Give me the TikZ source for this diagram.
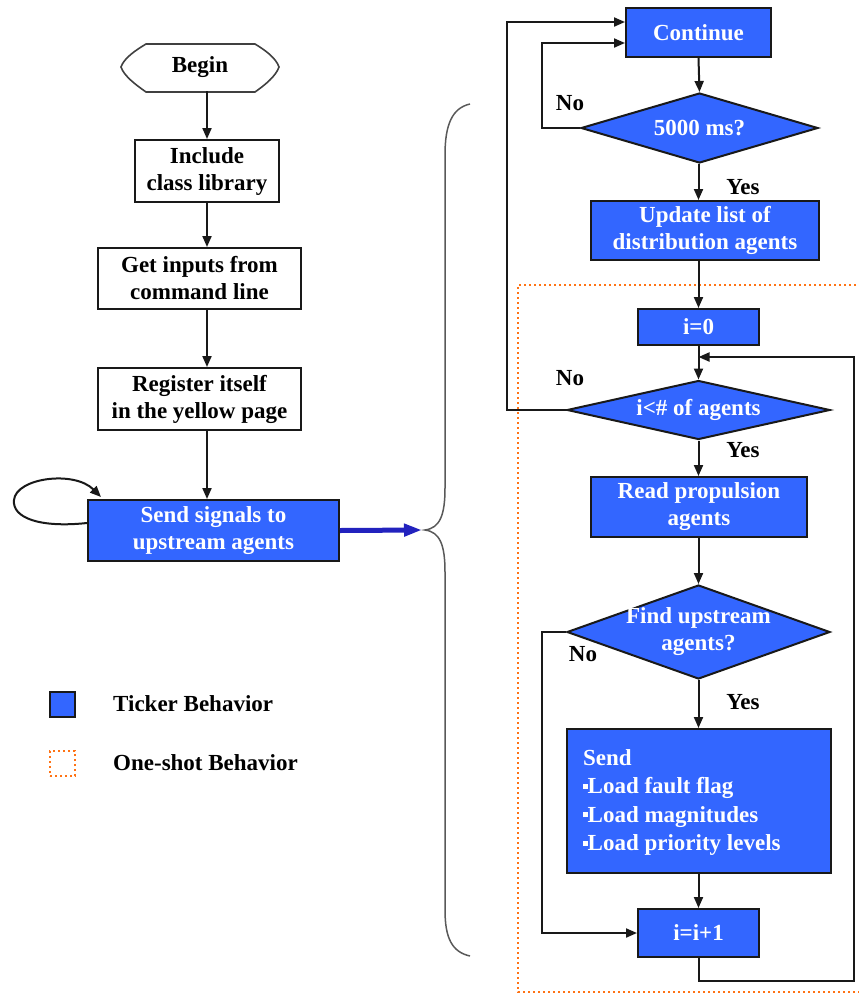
\documentclass[tikz,border=0pt]{standalone}
\usepackage{fontspec}
\setmainfont{Liberation Serif}
\usetikzlibrary{shapes.geometric,arrows.meta}
\definecolor{ticker}{RGB}{51,102,255}
\definecolor{oneshot}{RGB}{255,115,20}
\definecolor{shaft}{RGB}{34,34,190}
\definecolor{edge}{RGB}{25,25,25}
\newcommand{\sqbul}{\rule[5pt]{4.5pt}{5pt}}
\begin{document}
\begin{tikzpicture}[x=1pt,y=-1pt,
  every node/.style={font=\fontsize{23}{27}\selectfont\bfseries, inner sep=0pt},
  plainbox/.style={draw=edge, line width=2pt, fill=white, align=center},
  tickbox/.style={draw=edge, line width=2pt, fill=ticker, text=white, align=center},
  decide/.style={diamond, draw=edge, line width=2pt, fill=ticker},
  dtext/.style={text=white, align=center},
  arr/.style={line width=2pt, draw=edge, -{Triangle[length=11pt,width=9pt]}},
  lbl/.style={text=black},
  dots/.style={draw=oneshot, line width=2.4pt, dash pattern=on 2.2pt off 2.8pt},
]
\useasboundingbox (0,0) rectangle (859,994);

% one-shot region
\draw[dots] (866,285) -- (518,285) -- (518,992) -- (866,992);

% ---------- left column ----------
\node[minimum width=158, minimum height=48] (begin) at (200,67) {Begin};
\draw[line width=1.6pt, draw=black!75]
  (121,67) .. controls (124,58) and (136,50) .. (146,44) -- (255,44)
  .. controls (265,50) and (276,58) .. (279,67)
  .. controls (276,76) and (265,85) .. (255,92) -- (146,92)
  .. controls (136,85) and (124,76) .. cycle;

\node[plainbox, minimum width=144, minimum height=62] (include) at (207,171) {Include\\class library};
\node[plainbox, minimum width=203, minimum height=61] (getin) at (199.5,278.5) {Get inputs from\\command line};
\node[plainbox, minimum width=203, minimum height=62] (register) at (199.5,399) {Register itself\\in the yellow page};
\node[tickbox, minimum width=251, minimum height=61] (sig) at (213.5,530.5) {Send signals to\\upstream agents};

\draw[arr] (include.north |- begin.south) -- (include.north);
\draw[arr] (include.south) -- (include.south |- getin.north);
\draw[arr] (include.south |- getin.south) -- (include.south |- register.north);
\draw[arr] (include.south |- register.south) -- (include.south |- sig.north);

% self loop on the ticker
\coordinate (loopin) at (101,497);
\draw[arr] ([yshift=7.5pt]sig.west) .. controls (40,528) and (12,518) .. (14,500)
  .. controls (16,478) and (74,470) .. (loopin);

% thick arrow into the brace
\coordinate (tip) at (425,530);
\draw[line width=5pt, shaft, -{Triangle[length=18pt,width=12pt]}] (sig.east) -- ([xshift=-3pt]tip);

% brace
\draw[line width=1.5pt, black!65]
  (470,104) .. controls (452,108) and (445,125) .. (445,155) -- (445,488)
  .. controls (445,515) and (440,528) .. (tip)
  .. controls (440,532) and (445,545) .. (445,572) -- (445,910)
  .. controls (445,938) and (452,952) .. (470,956);

% legend
\node[draw=edge, fill=ticker, line width=2pt, minimum size=25] (legt) at (62.5,704.5) {};
\node[anchor=west, lbl] (legttxt) at (113,704) {Ticker Behavior};
\node[dots, minimum size=25] (lego) at (62.5,763.5) {};
\node[anchor=west, lbl] (legotxt) at (113,763) {One-shot Behavior};

% ---------- right column ----------
\node[tickbox, minimum width=145, minimum height=49] (cont) at (698.5,32.5) {Continue};
\node[decide, minimum width=237, minimum height=70] (dwait) at (699.5,128) {};
\node[dtext] (dwaitt) at (dwait) {5000 ms?};
\node[tickbox, minimum width=228, minimum height=59] (upd) at (705,230.5) {Update list of\\distribution agents};
\node[tickbox, minimum width=121, minimum height=36] (izero) at (698.5,327) {i=0};
\node[decide, minimum width=263, minimum height=59] (dcount) at (698.5,410) {};
\node[dtext] (dcountt) at (dcount) {i<\# of agents};
\node[tickbox, minimum width=216, minimum height=60] (readp) at (699,507) {Read propulsion\\agents};
\node[decide, minimum width=263, minimum height=94] (dfind) at (698.5,632) {};
\node[dtext] (dfindt) at (dfind) {Find upstream\\agents?};
\node[tickbox, minimum width=264, minimum height=144] (sendb) at (699,801) {};
\node[text=white, align=left, anchor=north west, font=\fontsize{23}{28.5}\selectfont\bfseries] (sendt) at (583,749)
  {Send\\\sqbul Load fault flag\\\sqbul Load magnitudes\\\sqbul Load priority levels};
\node[tickbox, minimum width=121, minimum height=48] (inc) at (698.5,933) {i=i+1};

% main flow
\draw[arr] (cont.south) -- (dwait.north);
\draw[arr] (cont.south |- dwait.south) -- (cont.south |- upd.north);
\draw[arr] (izero.north |- upd.south) -- (izero.north);
\draw[arr] (izero.south) -- (izero.south |- dcount.north);
\draw[arr] (izero.south |- dcount.south) -- (izero.south |- readp.north);
\draw[arr] (izero.south |- readp.south) -- (izero.south |- dfind.north);
\draw[arr] (izero.south |- dfind.south) -- (izero.south |- sendb.north);
\draw[arr] (izero.south |- sendb.south) -- (inc.north);

% loops
\coordinate (lpa) at (542,43);
\draw[arr] (dwait.west) -| (lpa) -- (lpa -| cont.west);
\coordinate (lpb) at (507,22);
\draw[arr] (dcount.west) -| (lpb) -- (lpb -| cont.west);
\coordinate (lpc) at (542,632);
\draw[arr] (dfind.west) -- (lpc) |- (inc.west);
\coordinate (rbot) at (854,981);
\coordinate (merge) at (698.5,357);
\draw[arr] (inc.south) |- (rbot) |- (merge);

% branch labels
\node[lbl] (no1) at (570,103) {No};
\node[lbl] (yes1) at (743,187) {Yes};
\node[lbl] (no2) at (570,378) {No};
\node[lbl] (yes2) at (743,450) {Yes};
\node[lbl] (no3) at (583,654) {No};
\node[lbl] (yes3) at (743,702) {Yes};
\end{tikzpicture}
\end{document}
